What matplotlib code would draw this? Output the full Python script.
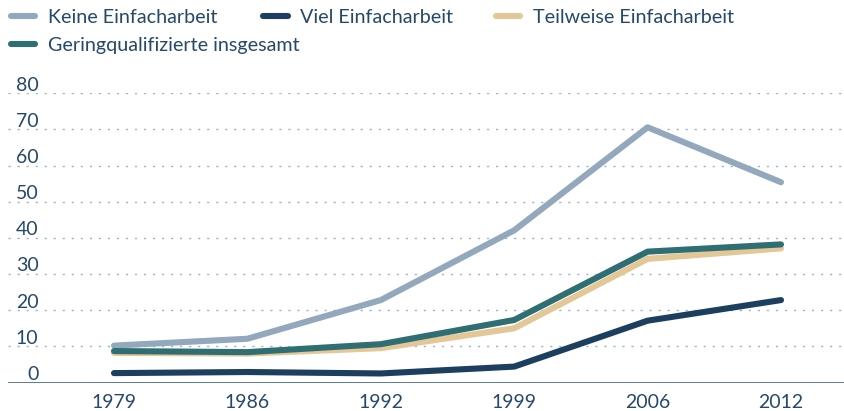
import matplotlib
matplotlib.use("Agg")
import matplotlib.pyplot as plt
from matplotlib.lines import Line2D
import matplotlib.transforms as mtransforms

plt.rcParams['font.family'] = ['Lato', 'DejaVu Sans']

years = ["1979", "1986", "1992", "1999", "2006", "2012"]
keine = [10.2, 12.1, 22.8, 42.1, 70.6, 55.4]
viel = [2.6, 2.9, 2.5, 4.4, 17.1, 22.8]
teilweise = [8.2, 8.0, 9.5, 15.0, 34.2, 37.1]
gering = [8.7, 8.4, 10.6, 17.3, 36.2, 38.2]
series_names = ["Keine Einfacharbeit", "Viel Einfacharbeit",
                "Teilweise Einfacharbeit", "Geringqualifizierte insgesamt"]
yticks = [0, 10, 20, 30, 40, 50, 60, 70, 80]

c_keine = "#93a8bc"
c_viel = "#1c3f5f"
c_teil = "#e4c797"
c_gering = "#2f6f74"
c_text = "#264869"
c_grid = "#9fb2c6"
c_axis = "#5b7b96"

W, H = 845, 411
fig = plt.figure(figsize=(W / 100, H / 100), dpi=100)

left, right = 8, 845
bottom_px, top_px = 382.5, 93.3
ax = fig.add_axes([left / W, (H - bottom_px) / H, (right - left) / W, (bottom_px - top_px) / H])

x = list(range(len(years)))
ax.set_xlim((8 - 114) / 133.4, 5 + (845 - 781) / 133.4)
ax.set_ylim(0, 80)

for v in yticks[1:]:
    ax.axhline(v, color=c_grid, lw=1.0, dashes=(1.6, 4.9), zorder=1)
ax.axhline(0, color=c_axis, lw=1.4, zorder=2)

lw = 4.4
kw = dict(lw=lw, solid_capstyle='round', solid_joinstyle='round', clip_on=False, zorder=3)
ax.plot(x, keine, color=c_keine, **kw)
ax.plot(x, viel, color=c_viel, **kw)
ax.plot(x, teilweise, color=c_teil, **kw)
ax.plot(x, gering, color=c_gering, **kw)

for s in ax.spines.values():
    s.set_visible(False)
ax.set_yticks([])
ax.set_xticks(x)
ax.set_xticklabels(years, fontsize=14, color=c_text)
ax.tick_params(axis='x', length=0, pad=8)

off = mtransforms.ScaledTranslation(0, 2.6 / 100, fig.dpi_scale_trans)
for v in yticks:
    ax.text((38.5 - left) / (right - left), v, str(v), transform=ax.get_yaxis_transform() + off,
            ha='right', va='baseline', fontsize=14, color=c_text)

# legend
def fx(px):
    return px / W
def fy(py):
    return (H - py) / H

items = [
    (series_names[0], c_keine, 11, 35, 48, 16, 22.7),
    (series_names[1], c_viel, 263, 288, 300.5, 16, 22.7),
    (series_names[2], c_teil, 496, 520, 533, 16, 22.7),
    (series_names[3], c_gering, 11, 35, 48, 44, 50.5),
]
for name, col, x0, x1, tx, ly, by in items:
    fig.add_artist(Line2D([fx(x0), fx(x1)], [fy(ly), fy(ly)], transform=fig.transFigure,
                          color=col, lw=lw, solid_capstyle='round'))
    fig.text(fx(tx), fy(by), name, ha='left', va='baseline', fontsize=14.2, color=c_text)

fig.savefig("out.png", dpi=100)
